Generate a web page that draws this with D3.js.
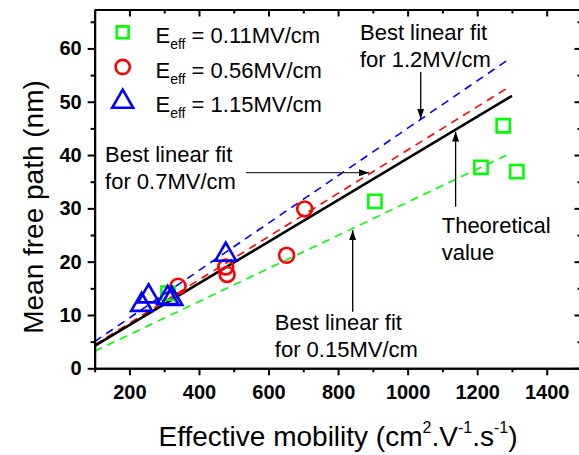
<!DOCTYPE html>
<html><head><meta charset="utf-8">
<script src="https://cdn.jsdelivr.net/npm/d3@7"></script>
<style>
body{margin:0;background:#fff;}
svg text{font-family:"Liberation Sans",Arial,sans-serif;}
</style></head>
<body><svg id="c" width="579" height="455"></svg>
<script>
// ---- data ----
const seriesNames = ["0.11MV/cm", "0.56MV/cm", "1.15MV/cm"];
const greenX = [311, 906, 1211, 1275, 1314];
const greenY = [14.1, 31.3, 37.7, 45.5, 36.9];
const redX = [340, 477, 481, 652, 704];
const redY = [15.4, 19.0, 17.6, 21.2, 29.9];
const blueX = [235, 255, 310, 322, 477];
const blueY = [11.9, 13.5, 13.2, 13.0, 21.3];
// line end points [x, y]
const theoryLine = [[100, 4.2], [1300, 51.1]];
const fitBlue = [[100, 5.0], [1285, 57.7]];
const fitRed = [[100, 4.4], [1285, 52.5]];
const fitGreen = [[100, 3.2], [1285, 40.0]];
const xMajor = [200, 400, 600, 800, 1000, 1200, 1400];
const xMinor = [100, 300, 500, 700, 900, 1100, 1300, 1500];
const yMajor = [0, 10, 20, 30, 40, 50, 60];
const yMinor = [5, 15, 25, 35, 45, 55, 65];

const svg = d3.select("#c");
const L = 94.65, R = 581.5, T = 9.5, B = 368.3;
const x = d3.scaleLinear().domain([100, 1500]).range([L, R]);
const y = d3.scaleLinear().domain([0, 67.3]).range([B, T]);

// arrow marker
const defs = svg.append("defs");
defs.append("marker").attr("id", "ah").attr("viewBox", "0 0 10 10").attr("refX", 10).attr("refY", 5)
  .attr("markerWidth", 10).attr("markerHeight", 10).attr("markerUnits", "userSpaceOnUse").attr("orient", "auto")
  .append("path").attr("d", "M0,1.5 L10,5 L0,8.5 Z").attr("fill", "#000");

// lines
const line = d3.line().x(d => x(d[0])).y(d => y(d[1]));
const dash = "8,6";
svg.append("path").datum(fitGreen).attr("d", line).attr("stroke", "#00ff00").attr("stroke-width", 1.6).attr("stroke-dasharray", dash).attr("fill", "none");
svg.append("path").datum(fitRed).attr("d", line).attr("stroke", "#ff0000").attr("stroke-width", 1.6).attr("stroke-dasharray", dash).attr("fill", "none");
svg.append("path").datum(fitBlue).attr("d", line).attr("stroke", "#0000ff").attr("stroke-width", 1.6).attr("stroke-dasharray", dash).attr("fill", "none");
svg.append("path").datum(theoryLine).attr("d", line).attr("stroke", "#000").attr("stroke-width", 2.6).attr("fill", "none");

// markers
const sq = d3.symbol().type(d3.symbolSquare).size(175);
const ci = d3.symbol().type(d3.symbolCircle).size(175);
const tr = d3.symbol().type(d3.symbolTriangle).size(190);
const sqL = d3.symbol().type(d3.symbolSquare).size(140);
const ciL = d3.symbol().type(d3.symbolCircle).size(160);
function pts(xs, ys, sym, col) {
  svg.append("g").selectAll("path").data(xs.map((v, i) => [v, ys[i]])).join("path")
    .attr("d", sym).attr("transform", d => `translate(${x(d[0])},${y(d[1])})`)
    .attr("fill", "none").attr("stroke", col).attr("stroke-width", 2.6);
}
pts(greenX, greenY, sq, "#00ff00");
pts(redX, redY, ci, "#ff0000");
pts(blueX, blueY, tr, "#0000ff");

// axes
function styleAxis(g) {
  g.select(".domain").attr("stroke", "#000").attr("stroke-width", 2);
  g.selectAll(".tick line").attr("stroke", "#000").attr("stroke-width", 2);
  g.selectAll("text").attr("font-family", "Liberation Sans, Arial, sans-serif").attr("font-weight", "bold").attr("font-size", 20).attr("fill", "#000");
}
svg.append("g").attr("transform", `translate(0,${B})`)
  .call(d3.axisBottom(x).tickValues(xMajor).tickFormat(d3.format("d")).tickSize(7).tickPadding(10).tickSizeOuter(0)).call(styleAxis);
svg.append("g").attr("transform", `translate(0,${B})`)
  .call(d3.axisBottom(x).tickValues(xMinor).tickFormat("").tickSize(4).tickSizeOuter(0)).call(styleAxis);
svg.append("g").attr("transform", `translate(${L},0)`)
  .call(d3.axisLeft(y).tickValues(yMajor).tickFormat(d3.format("d")).tickSize(7).tickPadding(6).tickSizeOuter(0)).call(styleAxis);
svg.append("g").attr("transform", `translate(${L},0)`)
  .call(d3.axisLeft(y).tickValues(yMinor).tickFormat("").tickSize(4).tickSizeOuter(0)).call(styleAxis);
svg.append("g").attr("transform", `translate(0,${T})`)
  .call(d3.axisTop(x).tickValues(xMajor).tickFormat("").tickSize(-7).tickSizeOuter(0)).call(styleAxis);
svg.append("g").attr("transform", `translate(0,${T})`)
  .call(d3.axisTop(x).tickValues(xMinor).tickFormat("").tickSize(-4).tickSizeOuter(0)).call(styleAxis);
svg.append("g").attr("transform", `translate(${R},0)`)
  .call(d3.axisRight(y).tickValues(yMajor).tickFormat("").tickSize(-7).tickSizeOuter(0)).call(styleAxis);
svg.append("g").attr("transform", `translate(${R},0)`)
  .call(d3.axisRight(y).tickValues(yMinor).tickFormat("").tickSize(-4).tickSizeOuter(0)).call(styleAxis);

// axis titles
const xt = svg.append("text").attr("x", (153 + 523) / 2).attr("y", 446).attr("text-anchor", "middle").attr("font-size", 28).attr("fill", "#000");
xt.append("tspan").text("Effective mobility (cm");
xt.append("tspan").text("2").attr("font-size", 16).attr("dy", -13);
xt.append("tspan").text(".V").attr("dy", 13);
xt.append("tspan").text("-1").attr("font-size", 16).attr("dy", -13);
xt.append("tspan").text(".s").attr("dy", 13);
xt.append("tspan").text("-1").attr("font-size", 16).attr("dy", -13);
xt.append("tspan").text(")").attr("dy", 13);
svg.append("text").attr("transform", "translate(43,207) rotate(-90)").attr("text-anchor", "middle")
  .attr("font-size", 28).attr("fill", "#000").text("Mean free path (nm)");

// legend
const legY = [32.3, 67, 101.7];
const legSyms = [[sqL, "#00ff00"], [ciL, "#ff0000"], [tr, "#0000ff"]];
seriesNames.forEach((n, i) => {
  svg.append("path").attr("d", legSyms[i][0]).attr("transform", `translate(122.7,${legY[i]})`)
    .attr("fill", "none").attr("stroke", legSyms[i][1]).attr("stroke-width", 2.6);
  const t = svg.append("text").attr("x", 155.5).attr("y", legY[i] + 10.5).attr("font-size", 22).attr("fill", "#000");
  t.append("tspan").text("E");
  t.append("tspan").text("eff").attr("font-size", 14).attr("dy", 6);
  t.append("tspan").text(" = " + n).attr("dy", -6);
});

// annotations
function ann(lines, xv, yv, dy) {
  const t = svg.append("text").attr("font-size", 22).attr("fill", "#000");
  lines.forEach((s, i) => t.append("tspan").attr("x", x(xv)).attr("y", y(yv) + i * dy).text(s));
}
function arrow(x1, y1, x2, y2, col) {
  svg.append("line").attr("x1", x(x1)).attr("y1", y(y1)).attr("x2", x(x2)).attr("y2", y(y2))
    .attr("stroke", col || "#000").attr("stroke-width", 1.3).attr("marker-end", "url(#ah)");
}
ann(["Best linear fit", "for 1.2MV/cm"], 863, 61.6, 26.7);
arrow(1037.6, 55.6, 1037.6, 46.8);
ann(["Best linear fit", "for 0.7MV/cm"], 130, 38.7, 27);
arrow(535, 36.7, 889, 36.7, "#333");
ann(["Theoretical", "value"], 1098, 25.4, 27);
arrow(1138, 30.3, 1138, 44.4);
ann(["Best linear fit", "for 0.15MV/cm"], 618, 7.2, 27);
arrow(842, 10.6, 842, 25.9);
</script></body></html>
